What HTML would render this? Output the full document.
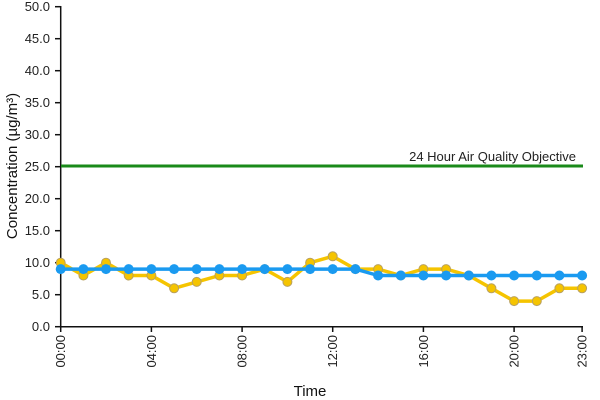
<!DOCTYPE html>
<html><head><meta charset="utf-8"><style>
html,body{margin:0;padding:0;background:#fff;}
svg{display:block;font-family:"Liberation Sans",Arial,sans-serif;}
</style></head><body>
<svg width="600" height="400" viewBox="0 0 600 400">
<g fill="#222" font-size="13" text-anchor="end">
<text x="50" y="11">50.0</text>
<text x="50" y="43">45.0</text>
<text x="50" y="75">40.0</text>
<text x="50" y="107">35.0</text>
<text x="50" y="139">30.0</text>
<text x="50" y="171">25.0</text>
<text x="50" y="203">20.0</text>
<text x="50" y="235">15.0</text>
<text x="50" y="267">10.0</text>
<text x="50" y="299">5.0</text>
<text x="50" y="331">0.0</text>
</g>
<g stroke="#111" stroke-width="1.5">
<line x1="60.7" y1="6" x2="60.7" y2="327"/>
<line x1="60" y1="326.7" x2="583" y2="326.7"/>
<line x1="55" y1="6.7" x2="60.7" y2="6.7"/>
<line x1="55" y1="38.7" x2="60.7" y2="38.7"/>
<line x1="55" y1="70.7" x2="60.7" y2="70.7"/>
<line x1="55" y1="102.7" x2="60.7" y2="102.7"/>
<line x1="55" y1="134.7" x2="60.7" y2="134.7"/>
<line x1="55" y1="166.7" x2="60.7" y2="166.7"/>
<line x1="55" y1="198.7" x2="60.7" y2="198.7"/>
<line x1="55" y1="230.7" x2="60.7" y2="230.7"/>
<line x1="55" y1="262.7" x2="60.7" y2="262.7"/>
<line x1="55" y1="294.7" x2="60.7" y2="294.7"/>
<line x1="55" y1="326.7" x2="60.7" y2="326.7"/>
<line x1="60.7" y1="326.7" x2="60.7" y2="332"/>
<line x1="151.4" y1="326.7" x2="151.4" y2="332"/>
<line x1="242.1" y1="326.7" x2="242.1" y2="332"/>
<line x1="332.7" y1="326.7" x2="332.7" y2="332"/>
<line x1="423.4" y1="326.7" x2="423.4" y2="332"/>
<line x1="514.1" y1="326.7" x2="514.1" y2="332"/>
<line x1="582.1" y1="326.7" x2="582.1" y2="332"/>
</g>
<g fill="#222" font-size="13" text-anchor="end">
<text transform="translate(65,335) rotate(-90)">00:00</text>
<text transform="translate(156,335) rotate(-90)">04:00</text>
<text transform="translate(246.5,335) rotate(-90)">08:00</text>
<text transform="translate(337,335) rotate(-90)">12:00</text>
<text transform="translate(428,335) rotate(-90)">16:00</text>
<text transform="translate(518.5,335) rotate(-90)">20:00</text>
<text transform="translate(586.5,335) rotate(-90)">23:00</text>
</g>
<text x="310" y="396" font-size="15" fill="#111" text-anchor="middle">Time</text>
<text transform="translate(17,166) rotate(-90)" font-size="15" fill="#111" text-anchor="middle">Concentration (µg/m³)</text>
<line x1="61" y1="166" x2="583" y2="166" stroke="#1a8a1a" stroke-width="3"/>
<text x="576" y="161" font-size="13" fill="#222" text-anchor="end">24 Hour Air Quality Objective</text>
<polyline fill="none" stroke="#f5c400" stroke-width="3.5" stroke-linejoin="round" points="60.7,262.7 83.4,275.5 106,262.7 128.7,275.5 151.4,275.5 174.1,288.3 196.7,281.9 219.4,275.5 242.1,275.5 264.7,269.1 287.4,281.9 310.1,262.7 332.7,256.3 355.4,269.1 378.1,269.1 400.8,275.5 423.4,269.1 446.1,269.1 468.8,275.5 491.4,288.3 514.1,301.1 536.8,301.1 559.4,288.3 582.1,288.3"/>
<g fill="#f5c400" stroke="#b8a060" stroke-width="1">
<circle cx="60.7" cy="262.7" r="4.5"/><circle cx="83.4" cy="275.5" r="4.5"/><circle cx="106" cy="262.7" r="4.5"/><circle cx="128.7" cy="275.5" r="4.5"/><circle cx="151.4" cy="275.5" r="4.5"/><circle cx="174.1" cy="288.3" r="4.5"/><circle cx="196.7" cy="281.9" r="4.5"/><circle cx="219.4" cy="275.5" r="4.5"/><circle cx="242.1" cy="275.5" r="4.5"/><circle cx="264.7" cy="269.1" r="4.5"/><circle cx="287.4" cy="281.9" r="4.5"/><circle cx="310.1" cy="262.7" r="4.5"/><circle cx="332.7" cy="256.3" r="4.5"/><circle cx="355.4" cy="269.1" r="4.5"/><circle cx="378.1" cy="269.1" r="4.5"/><circle cx="400.8" cy="275.5" r="4.5"/><circle cx="423.4" cy="269.1" r="4.5"/><circle cx="446.1" cy="269.1" r="4.5"/><circle cx="468.8" cy="275.5" r="4.5"/><circle cx="491.4" cy="288.3" r="4.5"/><circle cx="514.1" cy="301.1" r="4.5"/><circle cx="536.8" cy="301.1" r="4.5"/><circle cx="559.4" cy="288.3" r="4.5"/><circle cx="582.1" cy="288.3" r="4.5"/>
</g>
<polyline fill="none" stroke="#1a9af0" stroke-width="3.5" stroke-linejoin="round" points="60.7,269.1 355.4,269.1 378.1,275.5 582.1,275.5"/>
<g fill="#1a9af0">
<circle cx="60.7" cy="269.1" r="5"/><circle cx="83.4" cy="269.1" r="5"/><circle cx="106" cy="269.1" r="5"/><circle cx="128.7" cy="269.1" r="5"/><circle cx="151.4" cy="269.1" r="5"/><circle cx="174.1" cy="269.1" r="5"/><circle cx="196.7" cy="269.1" r="5"/><circle cx="219.4" cy="269.1" r="5"/><circle cx="242.1" cy="269.1" r="5"/><circle cx="264.7" cy="269.1" r="5"/><circle cx="287.4" cy="269.1" r="5"/><circle cx="310.1" cy="269.1" r="5"/><circle cx="332.7" cy="269.1" r="5"/><circle cx="355.4" cy="269.1" r="5"/><circle cx="378.1" cy="275.5" r="5"/><circle cx="400.8" cy="275.5" r="5"/><circle cx="423.4" cy="275.5" r="5"/><circle cx="446.1" cy="275.5" r="5"/><circle cx="468.8" cy="275.5" r="5"/><circle cx="491.4" cy="275.5" r="5"/><circle cx="514.1" cy="275.5" r="5"/><circle cx="536.8" cy="275.5" r="5"/><circle cx="559.4" cy="275.5" r="5"/><circle cx="582.1" cy="275.5" r="5"/>
</g>
</svg>
</body></html>
